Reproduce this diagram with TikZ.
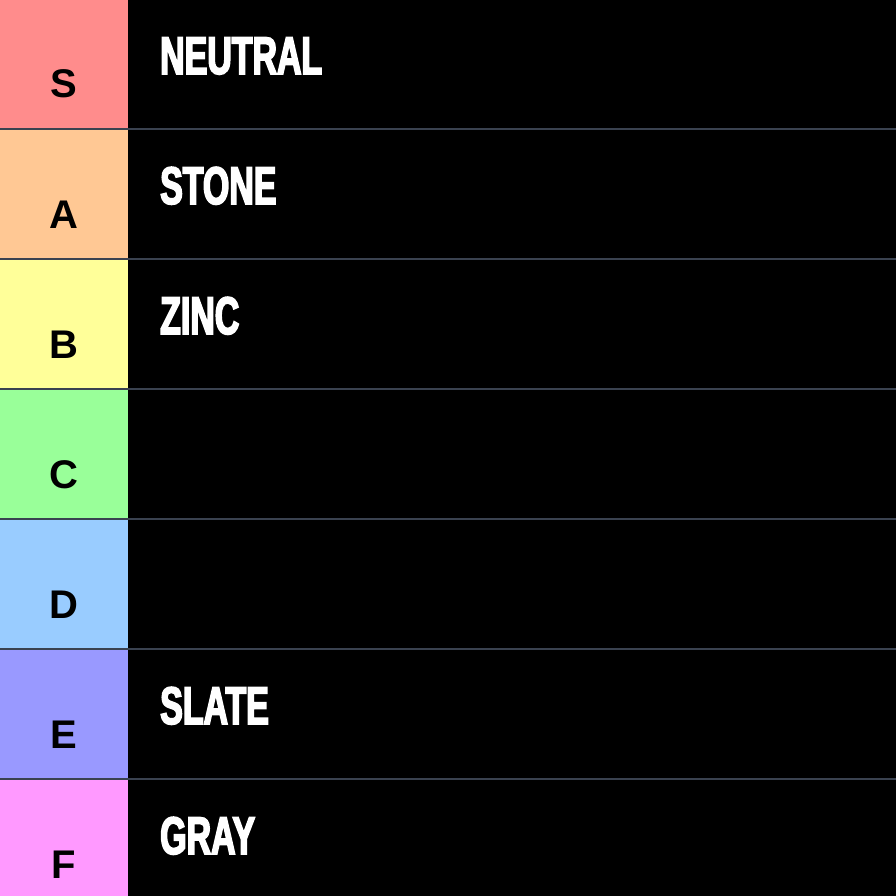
\documentclass[tikz,border=0pt]{standalone}
\usepackage{fontspec}
\setmainfont{Liberation Sans}
\newfontfamily\itemfont{Liberation Sans Bold}[FakeStretch=0.64,FakeBold=3]
\usepackage{tikz}
\usetikzlibrary{positioning}

\definecolor{tierS}{HTML}{FF8C8C}
\definecolor{tierA}{HTML}{FFC894}
\definecolor{tierB}{HTML}{FFFF99}
\definecolor{tierC}{HTML}{99FF99}
\definecolor{tierD}{HTML}{99CCFF}
\definecolor{tierE}{HTML}{9999FF}
\definecolor{tierF}{HTML}{FF99FF}
\definecolor{rowline}{HTML}{3A4250}

\begin{document}
\begin{tikzpicture}[x=1pt,y=-1pt,
        tier/.style={font=\fontsize{40}{40}\selectfont\bfseries, text=black, anchor=base, inner sep=0pt},
        item/.style={font=\itemfont\fontsize{53}{53}\selectfont, text=white, anchor=base west, inner sep=0pt},
        sep/.style={draw=rowline, line width=2pt}]
        \useasboundingbox (0,0) rectangle (896,896);
        \clip (0,0) rectangle (896,896);
        \fill[black] (0,0) rectangle (896,896);

        \foreach \c/\t/\i [count=\n from 0] in {tierS/S/NEUTRAL, tierA/A/STONE, tierB/B/ZINC, tierC/C/, tierD/D/, tierE/E/SLATE, tierF/F/GRAY} {
            \fill[\c] (0,130*\n) rectangle (128,130*\n+128);
            \node[tier] (t\t) at (64,130*\n+98) {\t};
            \node[item] (i\t) at (160,130*\n+74) {\i};
        }

        \foreach \n in {0,...,5}
            \draw[sep] (0,130*\n+129) -- (896,130*\n+129);
    \end{tikzpicture}
\end{document}
